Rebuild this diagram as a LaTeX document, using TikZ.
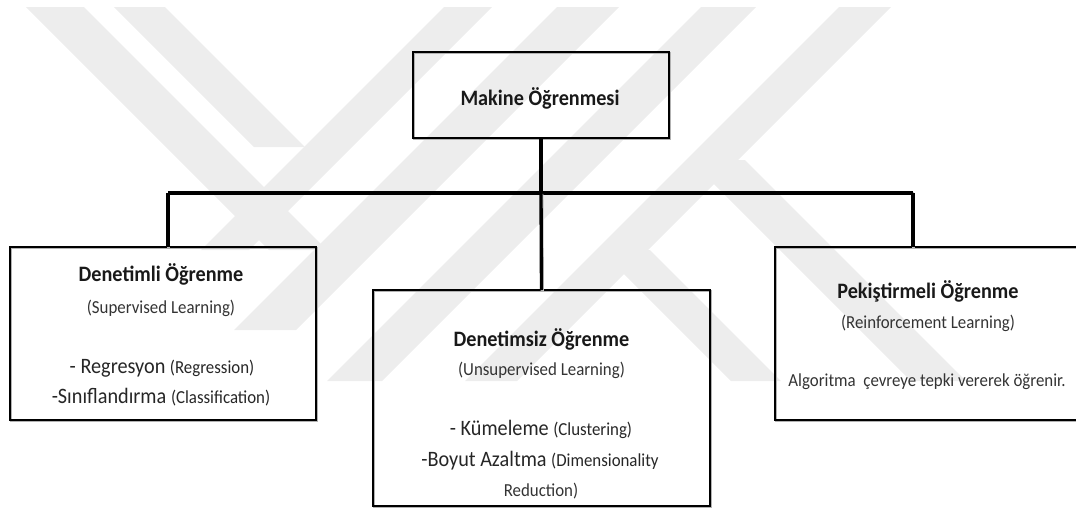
\documentclass[tikz,border=0pt]{standalone}
\usepackage{fontspec}
\setmainfont{Carlito}[FakeStretch=0.92]
\begin{document}
\begin{tikzpicture}[x=0.75pt,y=-0.75pt,
  box/.style={draw=black, line width=1.5pt, inner sep=0pt, outer sep=0pt,
    preaction={draw=black!30, line width=1.5pt, transform canvas={xshift=0.9pt,yshift=-0.9pt}}},
  conn/.style={draw=black, line width=2.5pt,
    preaction={draw=black!25, line width=2.5pt, transform canvas={xshift=0.6pt,yshift=-0.6pt}}},
  head/.style={anchor=base, inner sep=0pt, text=black!90,
    font=\fontsize{16.5}{20}\selectfont\bfseries},
  body/.style={anchor=base, inner sep=0pt, text=black!85,
    font=\fontsize{16.5}{20}\selectfont},
  sub/.style={anchor=base, inner sep=0pt, text=black!80,
    font=\fontsize{13.75}{17}\selectfont},
  logoband/.style={fill=black!7, draw=none}
]
\useasboundingbox (0,0) rectangle (1076,508);

% faint logo in the background, built from 45 degree bands
\begin{scope}
\clip (0,7) rectangle (1076,381);
\fill[logoband] (26,7) -- (84,7) -- (327,250) -- (269,250) -- cycle;
\fill[logoband] (114,7) -- (165,7) -- (305,147) -- (254,147) -- cycle;
\fill[logoband] (444,7) -- (492,7) -- (249,250) -- (201,250) -- cycle;
\fill[logoband] (557,7) -- (619,7) -- (296,330) -- (234,330) -- cycle;
\fill[logoband] (701,7) -- (756,7) -- (382,381) -- (327,381) -- cycle;
\fill[logoband] (839,7) -- (891,7) -- (517,381) -- (465,381) -- cycle;
\fill[logoband] (690,160) -- (745,160) -- (966,381) -- (911,381) -- cycle;
\fill[logoband] (600,250) -- (650,250) -- (781,381) -- (731,381) -- cycle;
\end{scope}

% boxes (sizes in pt: 1 px = 0.75 pt)
\node[box, minimum width=192pt, minimum height=64.5pt] (ml) at (541,95) {};
\node[box, minimum width=229.5pt, minimum height=129.75pt] (sup) at (163,333.5) {};
\node[box, minimum width=252.75pt, minimum height=162pt] (uns) at (541.5,398) {};
\node[box, minimum width=229.5pt, minimum height=129.75pt] (rei) at (928,333.5) {};

% connectors
\coordinate (jm) at (541,193);
\coordinate (jl) at (168,193);
\coordinate (jr) at (913,193);
\draw[conn] (ml.south) -- (jm);
\draw[conn, line width=3pt] (jl) -- (jr);
\draw[conn] (jl) -- (jl |- sup.north);
\draw[conn] (jm) -- (uns.north);
\draw[conn] (jr) -- (jr |- rei.north);

% texts
\node[head] (ml-h) at (540,105) {Makine Öğrenmesi};

\node[head] (sup-h) at (161,281) {Denetimli Öğrenme};
\node[sub]  (sup-s) at (161,313) {(Supervised Learning)};
\node[body] (sup-1) at (162,373) {- Regresyon {\fontsize{13.75}{17}\selectfont(Regression)}};
\node[body] (sup-2) at (161,403) {-Sınıflandırma {\fontsize{13.75}{17}\selectfont(Classification)}};

\node[head] (uns-h) at (541.5,346.7) {Denetimsiz Öğrenme};
\node[sub]  (uns-s) at (541.5,375) {(Unsupervised Learning)};
\node[body] (uns-1) at (541,435) {- Kümeleme {\fontsize{13.75}{17}\selectfont(Clustering)}};
\node[body] (uns-2) at (540,466.7) {-Boyut Azaltma {\fontsize{13.75}{17}\selectfont(Dimensionality}};
\node[sub]  (uns-3) at (541,496.7) {Reduction)};

\node[head] (rei-h) at (928,298.3) {Pekiştirmeli Öğrenme};
\node[sub]  (rei-s) at (928,328) {(Reinforcement Learning)};
\node[sub]  (rei-1) at (927,386.7) {Algoritma\ \ çevreye tepki vererek öğrenir.};
\end{tikzpicture}
\end{document}
